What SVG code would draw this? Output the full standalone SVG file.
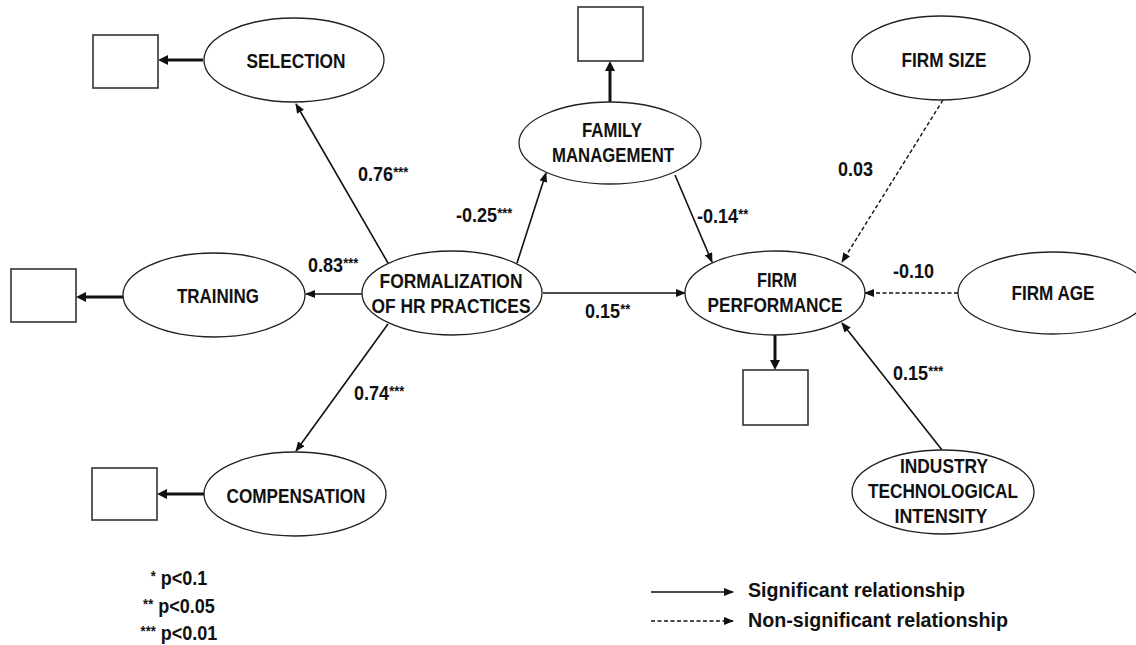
<svg xmlns="http://www.w3.org/2000/svg" width="1136" height="645" viewBox="0 0 1136 645">
<defs>
<style>
.el{fill:#fff;stroke:#222;stroke-width:1.3}
.bx{fill:#fff;stroke:#333;stroke-width:1.6}
.t{font-family:"Liberation Sans",Arial,sans-serif;font-weight:bold;font-size:21px;fill:#111;text-anchor:middle}
.l{font-family:"Liberation Sans",Arial,sans-serif;font-weight:bold;font-size:21px;fill:#111}
.s{font-size:15px}
.c{fill:none;stroke:#111;stroke-width:1.6}
.k{fill:none;stroke:#111;stroke-width:3}
.d{fill:none;stroke:#111;stroke-width:1.4;stroke-dasharray:4 2.5}
</style>
<marker id="ah" markerWidth="10" markerHeight="8" refX="9" refY="4" orient="auto" markerUnits="userSpaceOnUse"><path d="M0,0 L10,4 L0,8 z" fill="#111"/></marker>
<marker id="ahT" markerWidth="10" markerHeight="10" refX="3" refY="5" orient="auto" markerUnits="userSpaceOnUse"><path d="M0,0 L10,5 L0,10 z" fill="#111"/></marker>
</defs>
<rect width="1136" height="645" fill="#fff"/>

<g id="connectors">
<line class="k" x1="203" y1="60" x2="165" y2="60" marker-end="url(#ahT)"/>
<line class="k" x1="610" y1="102" x2="610" y2="68" marker-end="url(#ahT)"/>
<line class="k" x1="123" y1="297" x2="83" y2="297" marker-end="url(#ahT)"/>
<line class="k" x1="204" y1="494" x2="164" y2="494" marker-end="url(#ahT)"/>
<line class="k" x1="775" y1="335" x2="775" y2="363" marker-end="url(#ahT)"/>
<line class="c" x1="388" y1="263" x2="296" y2="104" marker-end="url(#ah)"/>
<line class="c" x1="362" y1="294" x2="306" y2="294" marker-end="url(#ah)"/>
<line class="c" x1="388" y1="324" x2="296" y2="451" marker-end="url(#ah)"/>
<line class="c" x1="517" y1="263" x2="546" y2="173" marker-end="url(#ah)"/>
<line class="c" x1="543" y1="293" x2="685" y2="293" marker-end="url(#ah)"/>
<line class="c" x1="675" y1="175" x2="712" y2="262" marker-end="url(#ah)"/>
<line class="c" x1="942" y1="450" x2="842" y2="323" marker-end="url(#ah)"/>
<line class="d" x1="943" y1="100" x2="842" y2="262" marker-end="url(#ah)"/>
<line class="d" x1="958" y1="293" x2="865" y2="293" marker-end="url(#ah)"/>
</g>

<g id="box-selection"><rect class="bx" x="93" y="35" width="65" height="53"/></g>
<g id="box-family"><rect class="bx" x="578" y="7" width="65" height="54"/></g>
<g id="box-training"><rect class="bx" x="11" y="269" width="65" height="53"/></g>
<g id="box-compensation"><rect class="bx" x="92" y="468" width="65" height="52"/></g>
<g id="box-performance"><rect class="bx" x="743" y="370" width="65" height="55"/></g>

<g id="selection"><ellipse class="el" cx="294" cy="60" rx="90" ry="42"/><text class="t" x="296" y="68" textLength="99" lengthAdjust="spacingAndGlyphs">SELECTION</text></g>
<g id="family-management"><ellipse class="el" cx="610" cy="143" rx="91" ry="41"/><text class="t" x="612" y="137" textLength="60" lengthAdjust="spacingAndGlyphs">FAMILY</text><text class="t" x="613" y="162" textLength="122" lengthAdjust="spacingAndGlyphs">MANAGEMENT</text></g>
<g id="firm-size"><ellipse class="el" cx="941" cy="58" rx="89" ry="42"/><text class="t" x="944" y="67" textLength="85" lengthAdjust="spacingAndGlyphs">FIRM SIZE</text></g>
<g id="training"><ellipse class="el" cx="214" cy="295" rx="91" ry="42"/><text class="t" x="218" y="303" textLength="82" lengthAdjust="spacingAndGlyphs">TRAINING</text></g>
<g id="formalization"><ellipse class="el" cx="452" cy="293" rx="90" ry="42"/><text class="t" x="451" y="288" textLength="143" lengthAdjust="spacingAndGlyphs">FORMALIZATION</text><text class="t" x="451" y="313" textLength="159" lengthAdjust="spacingAndGlyphs">OF HR PRACTICES</text></g>
<g id="firm-performance"><ellipse class="el" cx="775" cy="293" rx="90" ry="42"/><text class="t" x="777" y="287" textLength="40" lengthAdjust="spacingAndGlyphs">FIRM</text><text class="t" x="775" y="312" textLength="135" lengthAdjust="spacingAndGlyphs">PERFORMANCE</text></g>
<g id="firm-age"><ellipse class="el" cx="1053" cy="293" rx="95" ry="41"/><text class="t" x="1053" y="300" textLength="83" lengthAdjust="spacingAndGlyphs">FIRM AGE</text></g>
<g id="compensation"><ellipse class="el" cx="295" cy="494" rx="91" ry="42"/><text class="t" x="296" y="503" textLength="139" lengthAdjust="spacingAndGlyphs">COMPENSATION</text></g>
<g id="industry"><ellipse class="el" cx="943" cy="492" rx="91" ry="42"/><text class="t" x="944" y="473" textLength="88" lengthAdjust="spacingAndGlyphs">INDUSTRY</text><text class="t" x="943" y="498" textLength="150" lengthAdjust="spacingAndGlyphs">TECHNOLOGICAL</text><text class="t" x="941" y="523" textLength="93" lengthAdjust="spacingAndGlyphs">INTENSITY</text></g>

<g id="labels">
<text class="l" transform="translate(358,181) scale(0.86,1)">0.76<tspan class="s" dy="-4">***</tspan></text>
<text class="l" transform="translate(308,272) scale(0.86,1)">0.83<tspan class="s" dy="-4">***</tspan></text>
<text class="l" transform="translate(354,400) scale(0.86,1)">0.74<tspan class="s" dy="-4">***</tspan></text>
<text class="l" transform="translate(456,222) scale(0.86,1)">-0.25<tspan class="s" dy="-4">***</tspan></text>
<text class="l" transform="translate(697,223) scale(0.86,1)">-0.14<tspan class="s" dy="-4">**</tspan></text>
<text class="l" transform="translate(585,318) scale(0.86,1)">0.15<tspan class="s" dy="-4">**</tspan></text>
<text class="l" transform="translate(838,176) scale(0.86,1)">0.03</text>
<text class="l" transform="translate(893,278) scale(0.86,1)">-0.10</text>
<text class="l" transform="translate(893,380) scale(0.86,1)">0.15<tspan class="s" dy="-4">***</tspan></text>
</g>

<g id="legend">
<text class="t" transform="translate(179,585) scale(0.86,1)"><tspan class="s" dy="-4">*</tspan><tspan dy="4"> p&lt;0.1</tspan></text>
<text class="t" transform="translate(179,613) scale(0.86,1)"><tspan class="s" dy="-4">**</tspan><tspan dy="4"> p&lt;0.05</tspan></text>
<text class="t" transform="translate(179,640) scale(0.86,1)"><tspan class="s" dy="-4">***</tspan><tspan dy="4"> p&lt;0.01</tspan></text>
<line class="c" x1="651" y1="592" x2="733" y2="592" marker-end="url(#ah)"/>
<line class="d" x1="651" y1="621" x2="733" y2="621" marker-end="url(#ah)"/>
<text class="l" x="748" y="597" textLength="217" lengthAdjust="spacingAndGlyphs">Significant relationship</text>
<text class="l" x="748" y="627" textLength="260" lengthAdjust="spacingAndGlyphs">Non-significant relationship</text>
</g>
</svg>
